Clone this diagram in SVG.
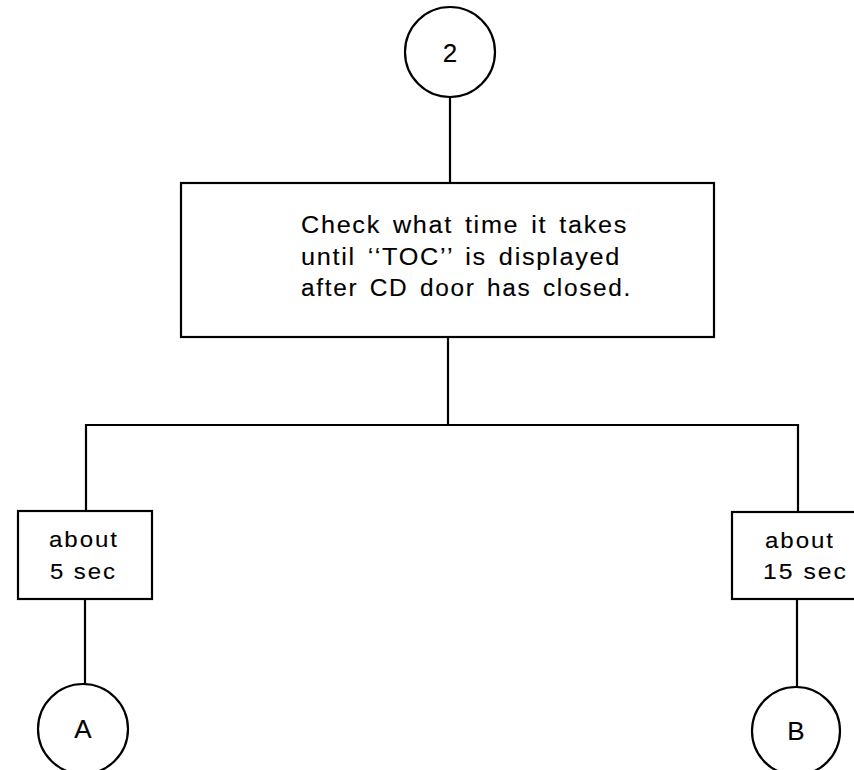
<svg xmlns="http://www.w3.org/2000/svg" width="854" height="770" viewBox="0 0 854 770">
<style>
.shape{fill:#fff;stroke:#000;stroke-width:2.2}
.conn{fill:none;stroke:#000;stroke-width:2.2}
text{font-family:"Liberation Sans",Arial,Helvetica,sans-serif;fill:#000;stroke:#000;stroke-width:0.12}
.big{font-size:26px;text-anchor:middle}
.main{font-size:23.5px;letter-spacing:1.6px;word-spacing:3px}
.side{font-size:22px;letter-spacing:1.8px}
</style>
<rect width="854" height="770" fill="#fff"/>
<g id="connectors">
<path class="conn" d="M450 97 V183"/>
<path class="conn" d="M448 337 V425"/>
<path class="conn" d="M86 511 V425 H798 V512"/>
<path class="conn" d="M85 599 V684"/>
<path class="conn" d="M797 599 V687"/>
</g>
<g id="node-2">
<circle class="shape" cx="450" cy="52" r="45"/>
<text class="big" x="450" y="62">2</text>
</g>
<g id="node-check">
<rect class="shape" x="181" y="183" width="533" height="154"/>
<text class="main" x="301" y="233" textLength="327" lengthAdjust="spacingAndGlyphs">Check what time it takes</text>
<text class="main" x="301" y="265" textLength="320" lengthAdjust="spacingAndGlyphs">until ‘‘TOC’’ is displayed</text>
<text class="main" x="301" y="296" textLength="331" lengthAdjust="spacingAndGlyphs">after CD door has closed.</text>
</g>
<g id="node-5sec">
<rect class="shape" x="18" y="511" width="134" height="88"/>
<text class="side" x="49" y="547" textLength="70" lengthAdjust="spacingAndGlyphs">about</text>
<text class="side" x="50" y="579" textLength="67" lengthAdjust="spacingAndGlyphs">5 sec</text>
</g>
<g id="node-15sec">
<rect class="shape" x="732" y="512" width="140" height="87"/>
<text class="side" x="765" y="548" textLength="70" lengthAdjust="spacingAndGlyphs">about</text>
<text class="side" x="763" y="579" textLength="85" lengthAdjust="spacingAndGlyphs">15 sec</text>
</g>
<g id="node-A">
<circle class="shape" cx="83" cy="729" r="45"/>
<text class="big" x="83" y="738">A</text>
</g>
<g id="node-B">
<circle class="shape" cx="796" cy="731" r="44"/>
<text class="big" x="796" y="740">B</text>
</g>
</svg>
